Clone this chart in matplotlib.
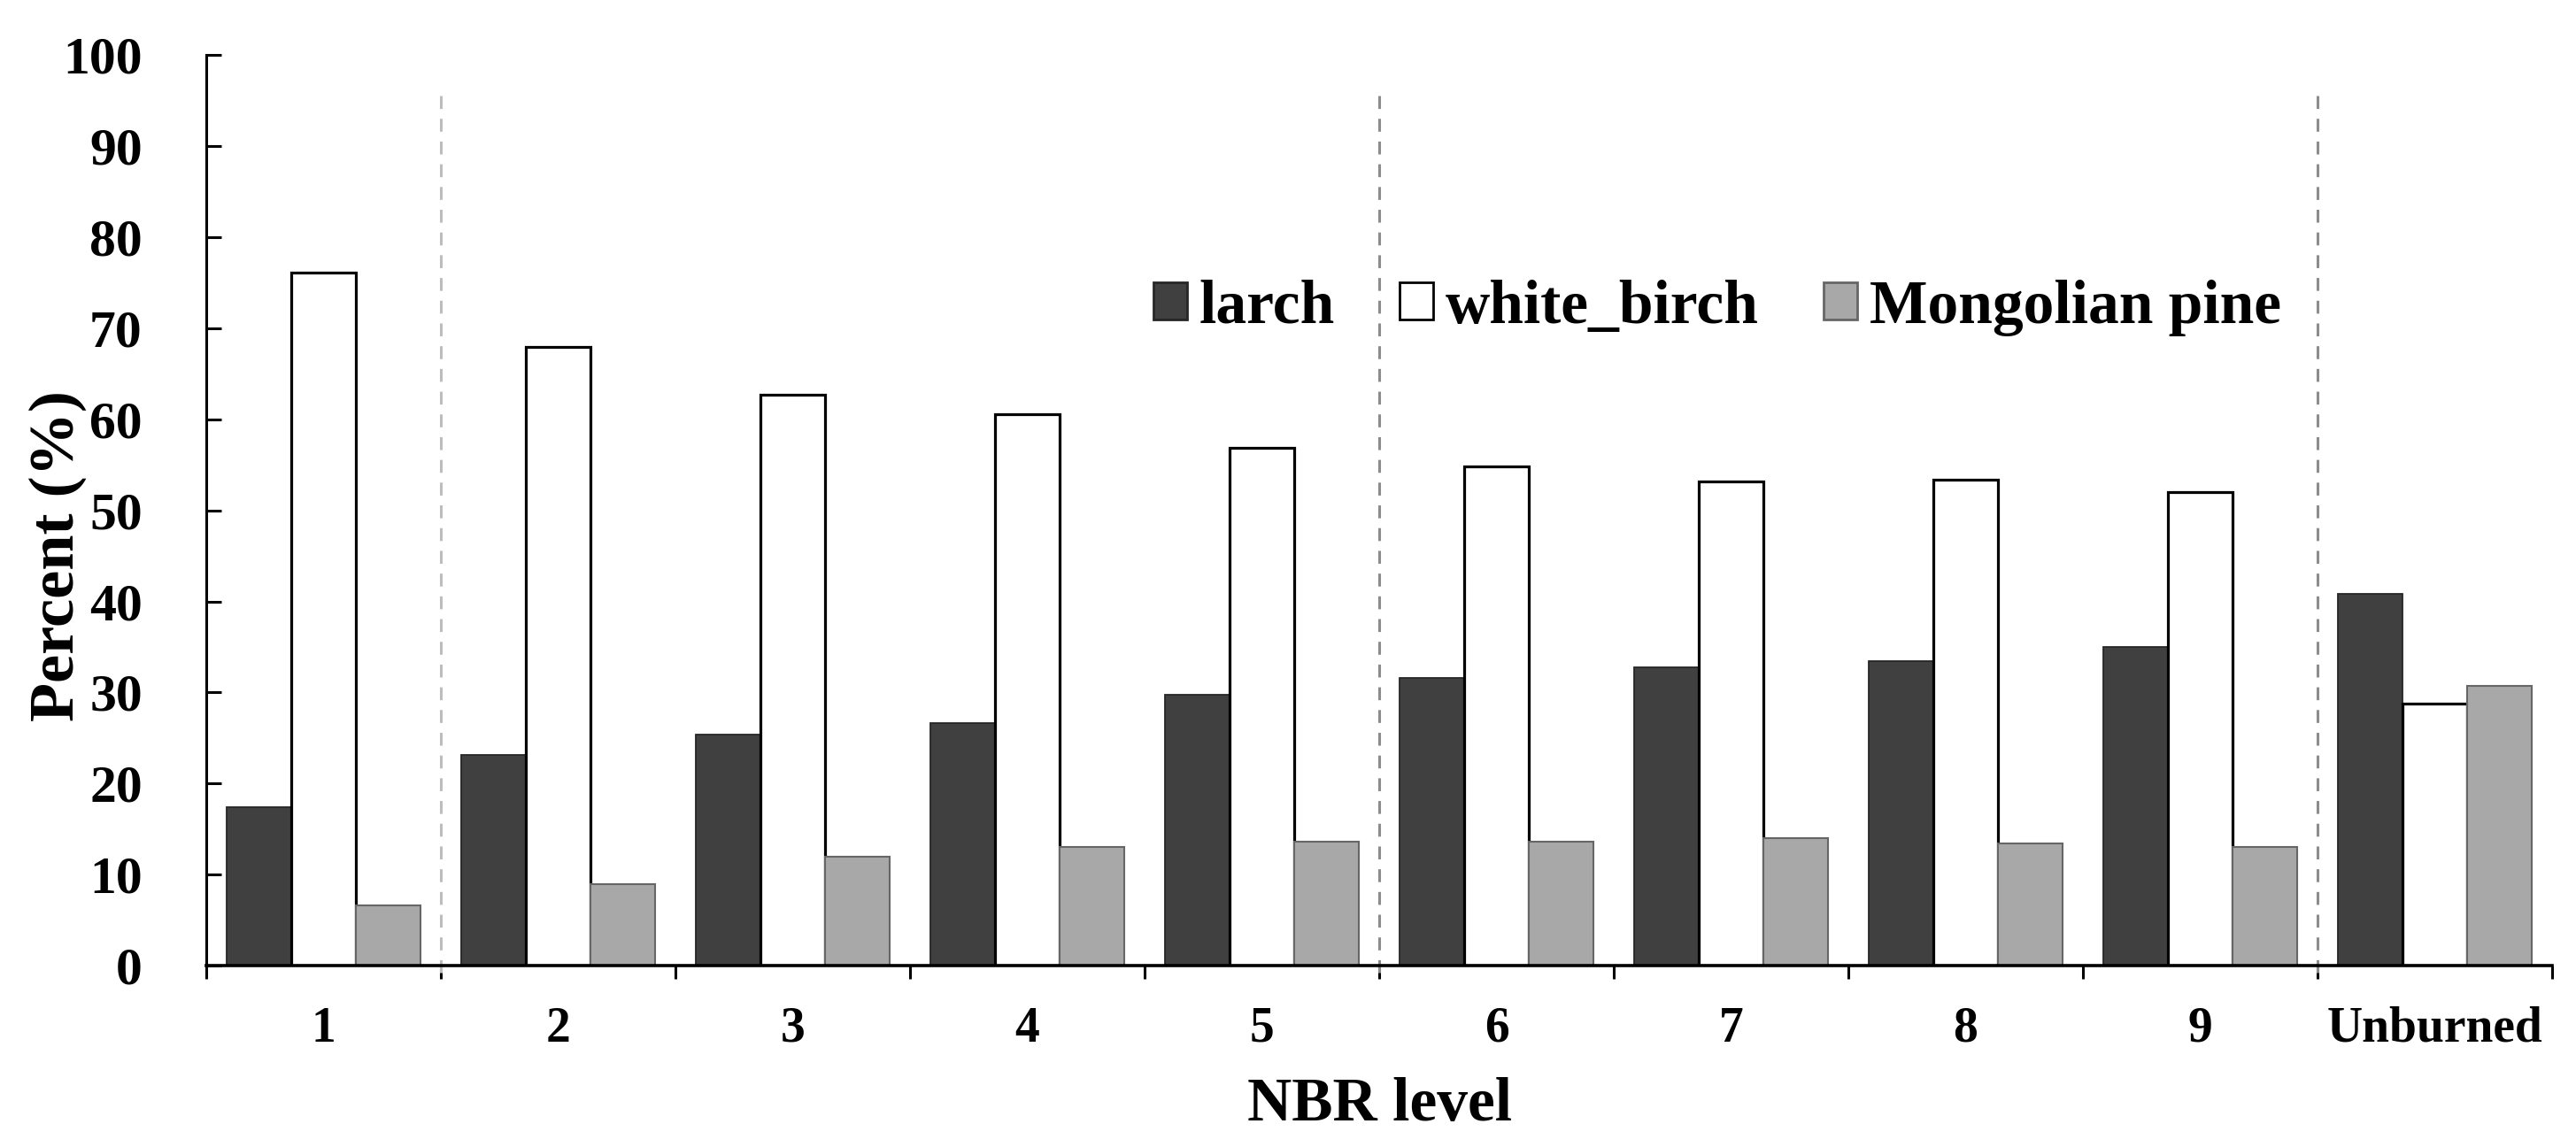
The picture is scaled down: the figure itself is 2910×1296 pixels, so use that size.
import matplotlib
matplotlib.use("Agg")
import matplotlib.pyplot as plt
import numpy as np
from matplotlib.patches import Patch

# ---- data ----
categories = ["1", "2", "3", "4", "5", "6", "7", "8", "9", "Unburned"]
larch = [17.4, 23.1, 25.4, 26.6, 29.7, 31.6, 32.8, 33.4, 35.0, 40.8]
white_birch = [76.1, 68.0, 62.7, 60.6, 56.9, 54.8, 53.2, 53.4, 52.0, 28.8]
mongolian_pine = [6.6, 8.9, 12.0, 13.0, 13.6, 13.6, 14.0, 13.4, 13.0, 30.7]
series_names = ["larch", "white_birch", "Mongolian pine"]
y_ticks = [0, 10, 20, 30, 40, 50, 60, 70, 80, 90, 100]
divider_after = ["1", "5", "9"]   # dashed separators after these categories
divider_top = 96
x_label = "NBR level"
y_label = "Percent (%)"

# ---- style ----
plt.rcParams["font.family"] = ["Liberation Serif", "DejaVu Serif"]
plt.rcParams["font.weight"] = "bold"
plt.rcParams["lines.scale_dashes"] = False

fills = ["#404040", "#ffffff", "#a8a8a8"]
edges = ["#262626", "#000000", "#666666"]
lws = [1.3, 2.3, 1.5]

fig = plt.figure(figsize=(29.10, 12.96), dpi=100)
ax = fig.add_axes([0.0801, 0.1582, 0.9106, 0.7937])

x = np.arange(len(categories))
bw = 0.275
for k, (vals, fc, ec, lw, name) in enumerate(zip([larch, white_birch, mongolian_pine],
                                                  fills, edges, lws, series_names)):
    ax.bar(x + (k - 1) * bw, vals, width=bw, color=fc, edgecolor=ec,
           linewidth=lw, label=name, zorder=3)

# dashed separators
div_colors = ["#bdbdbd", "#8c8c8c", "#8c8c8c"]
for cat, col in zip(divider_after, div_colors):
    xi = categories.index(cat) + 0.5
    ax.plot([xi, xi], [-0.8, divider_top], color=col, linewidth=2.2,
            dashes=(10.5, 8.0), zorder=2, clip_on=False)

ax.set_xlim(-0.5, len(categories) - 0.5)
ax.set_ylim(0, 100)

# spines
for s in ["top", "right"]:
    ax.spines[s].set_visible(False)
ax.spines["left"].set_linewidth(2.2)
ax.spines["bottom"].set_linewidth(2.6)
ax.spines["bottom"].set_zorder(5)

# y ticks
ax.set_yticks(y_ticks)
ax.set_yticklabels([str(v) for v in y_ticks])
ax.tick_params(axis="y", direction="in", length=12, width=2.2, pad=52,
               labelsize=43)

# x ticks: labels at centres, tick marks at boundaries
ax.set_xticks(x)
ax.set_xticklabels(categories)
ax.set_xticks(np.arange(len(categories) + 1) - 0.5, minor=True)
ax.tick_params(axis="x", which="major", length=0, pad=33, labelsize=40)
ax.tick_params(axis="x", which="minor", direction="out", length=11, width=2.2)

for lab in ax.get_xticklabels() + ax.get_yticklabels():
    lab.set_fontweight("bold")

# axis labels
fig.text(0.5355, 1 - 1266 / 1296, x_label, ha="center", va="baseline",
         fontsize=50, fontweight="bold")
fig.text(65 / 2910, 1 - 628 / 1296, y_label, ha="center", va="center",
         rotation=90, fontsize=52, fontweight="bold")

# legend
handles = [Patch(facecolor=fc, edgecolor=ec, linewidth=2.0) for fc, ec in zip(fills, edges)]
leg = fig.legend(handles, series_names, loc="center", bbox_to_anchor=(0.6666, 0.7315),
                 ncol=3, frameon=False, handlelength=0.55, handleheight=0.55,
                 handletextpad=0.2, columnspacing=1.05,
                 prop={"family": "Liberation Serif", "weight": "bold", "size": 50})

fig.savefig("out.png", dpi=100)
